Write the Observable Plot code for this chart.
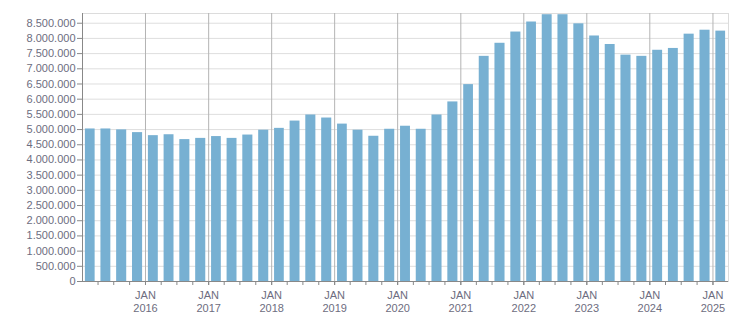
<!DOCTYPE html>
<html>
<head>
<meta charset="utf-8">
<script src="https://cdn.jsdelivr.net/npm/d3@7"></script>
<script src="https://cdn.jsdelivr.net/npm/@observablehq/plot@0.6"></script>
<style>
  html, body { margin: 0; padding: 0; background: #fff; }
</style>
</head>
<body>
<div id="chart"></div>
<script>
// Quarter start dates (one bar per quarter)
const quarters = [
  "2015-01","2015-04","2015-07","2015-10",
  "2016-01","2016-04","2016-07","2016-10",
  "2017-01","2017-04","2017-07","2017-10",
  "2018-01","2018-04","2018-07","2018-10",
  "2019-01","2019-04","2019-07","2019-10",
  "2020-01","2020-04","2020-07","2020-10",
  "2021-01","2021-04","2021-07","2021-10",
  "2022-01","2022-04","2022-07","2022-10",
  "2023-01","2023-04","2023-07","2023-10",
  "2024-01","2024-04","2024-07","2024-10",
  "2025-01"
];
const values = [
  5020000, 5020000, 4990000, 4900000,
  4800000, 4830000, 4670000, 4710000,
  4770000, 4710000, 4820000, 4980000,
  5040000, 5280000, 5480000, 5380000,
  5180000, 4980000, 4780000, 5010000,
  5110000, 5010000, 5480000, 5910000,
  6480000, 7410000, 7840000, 8210000,
  8540000, 8780000, 8780000, 8480000,
  8080000, 7800000, 7450000, 7410000,
  7610000, 7670000, 8140000, 8270000,
  8240000
];
const yTicks = [0,500000,1000000,1500000,2000000,2500000,3000000,3500000,4000000,
  4500000,5000000,5500000,6000000,6500000,7000000,7500000,8000000,8500000];
const yearTicks = ["2016","2017","2018","2019","2020","2021","2022","2023","2024","2025"];
const monthLabel = "JAN";

const parse = d3.utcParse("%Y-%m");
const data = quarters.map((q, i) => {
  const d = parse(q);
  return {x1: d, x2: d3.utcMonth.offset(d, 3), value: values[i]};
});
const janDates = yearTicks.map(y => parse(y + "-01"));
const quarterTicks = d3.utcMonth.every(3).range(parse("2015-04"), parse("2025-02"));

const fmt = d3.formatLocale({decimal: ",", thousands: ".", grouping: [3], currency: ["", ""]}).format(",d");

const xDomain = [parse("2015-01"), parse("2025-04")];

const chart = Plot.plot({
  width: 751,
  height: 313,
  marginLeft: 82,
  marginRight: 23,
  marginTop: 13,
  marginBottom: 32,
  style: {fontFamily: "'Liberation Sans', Arial, sans-serif", fontSize: "11px", color: "#6d6d80", background: "#fff"},
  x: {type: "utc", domain: xDomain},
  y: {domain: [0, 8820000]},
  marks: [
    Plot.ruleY(yTicks, {stroke: "#dedede", strokeOpacity: 1}),
    Plot.frame({stroke: "#dcdcdc"}),
    Plot.ruleX(janDates, {stroke: "#b4b4b4", strokeOpacity: 1}),
    Plot.rectY(data, {x1: "x1", x2: "x2", y: "value", fill: "#77b0d2", insetLeft: 2.9, insetRight: 2.9}),
    Plot.axisY({ticks: yTicks, tickFormat: fmt, tickSize: 5, tickPadding: 2, fontSize: 11, stroke: "#888", strokeOpacity: 1, label: null}),
    Plot.axisX({ticks: quarterTicks, tickFormat: () => "", tickSize: 4, stroke: "#888", strokeOpacity: 1, label: null}),
    Plot.axisX({ticks: janDates, tickFormat: d => monthLabel + "\n" + d.getUTCFullYear(), tickSize: 4, tickPadding: 4, fontSize: 11, lineHeight: 1.18, stroke: "#888", strokeOpacity: 1, label: null}),
    Plot.ruleX([xDomain[0]], {stroke: "#888"}),
    Plot.ruleY([0], {stroke: "#888"})
  ]
});
document.getElementById("chart").appendChild(chart);
</script>
</body>
</html>
